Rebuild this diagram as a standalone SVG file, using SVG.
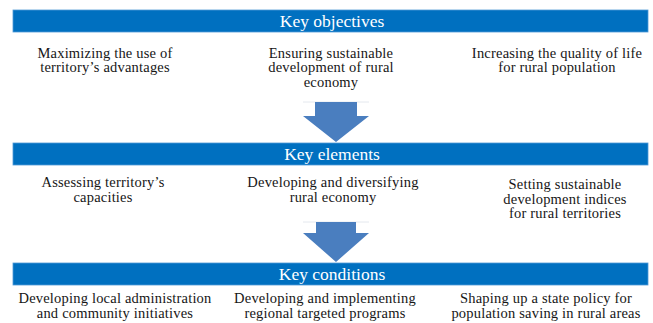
<svg xmlns="http://www.w3.org/2000/svg" width="653" height="323" viewBox="0 0 653 323">
<style>
.bar{fill:#0070c0;stroke:#4f9ad6;stroke-width:0.8}
.title{font-family:'Liberation Serif','DejaVu Serif',serif;font-size:17.5px;fill:#ffffff;text-anchor:middle}
.t{font-family:'Liberation Serif','DejaVu Serif',serif;font-size:14.5px;letter-spacing:0.2px;fill:#161616;text-anchor:middle}
.arrow{fill:#4a7ebf}
.faint{stroke:#e4e8ee;stroke-width:1}
</style>
<rect width="653" height="323" fill="#ffffff"/>
<g id="key-objectives">
<rect class="bar" x="13" y="10" width="635" height="22"/>
<text class="title" x="332" y="27">Key objectives</text>
</g>
<g id="obj-1"><text class="t" x="105" y="57.5">Maximizing the use of</text><text class="t" x="105" y="72">territory’s advantages</text></g>
<g id="obj-2"><text class="t" x="331" y="57.5">Ensuring sustainable</text><text class="t" x="331" y="72">development of rural</text><text class="t" x="331" y="86.5">economy</text></g>
<g id="obj-3"><text class="t" x="557" y="57.5">Increasing the quality of life</text><text class="t" x="557" y="72">for rural population</text></g>
<g id="key-elements">
<rect class="bar" x="13" y="143" width="635" height="22"/>
<text class="title" x="332" y="160">Key elements</text>
</g>
<g id="el-1"><text class="t" x="103" y="187">Assessing territory’s</text><text class="t" x="103" y="201.5">capacities</text></g>
<g id="el-2"><text class="t" x="333" y="187">Developing and diversifying</text><text class="t" x="333" y="201.5">rural economy</text></g>
<g id="el-3"><text class="t" x="565" y="189">Setting sustainable</text><text class="t" x="565" y="203.5">development indices</text><text class="t" x="565" y="218">for rural territories</text></g>
<g id="key-conditions">
<rect class="bar" x="13" y="263" width="635" height="22"/>
<text class="title" x="332" y="280">Key conditions</text>
</g>
<g id="cond-1"><text class="t" x="115" y="303">Developing local administration</text><text class="t" x="115" y="317.5">and community initiatives</text></g>
<g id="cond-2"><text class="t" x="325" y="303">Developing and implementing</text><text class="t" x="325" y="317.5">regional targeted programs</text></g>
<g id="cond-3"><text class="t" x="546" y="303">Shaping up a state policy for</text><text class="t" x="546" y="317.5">population saving in rural areas</text></g>
<g id="connectors">
<line class="faint" x1="303" y1="102" x2="369" y2="102"/>
<polygon class="arrow" points="315,102 357,102 357,116 369,116 336,142 303,116 315,116"/>
<line class="faint" x1="303" y1="222" x2="369" y2="222"/>
<polygon class="arrow" points="316,222 356,222 356,233 369,233 336,262 303,233 316,233"/>
</g>
</svg>
